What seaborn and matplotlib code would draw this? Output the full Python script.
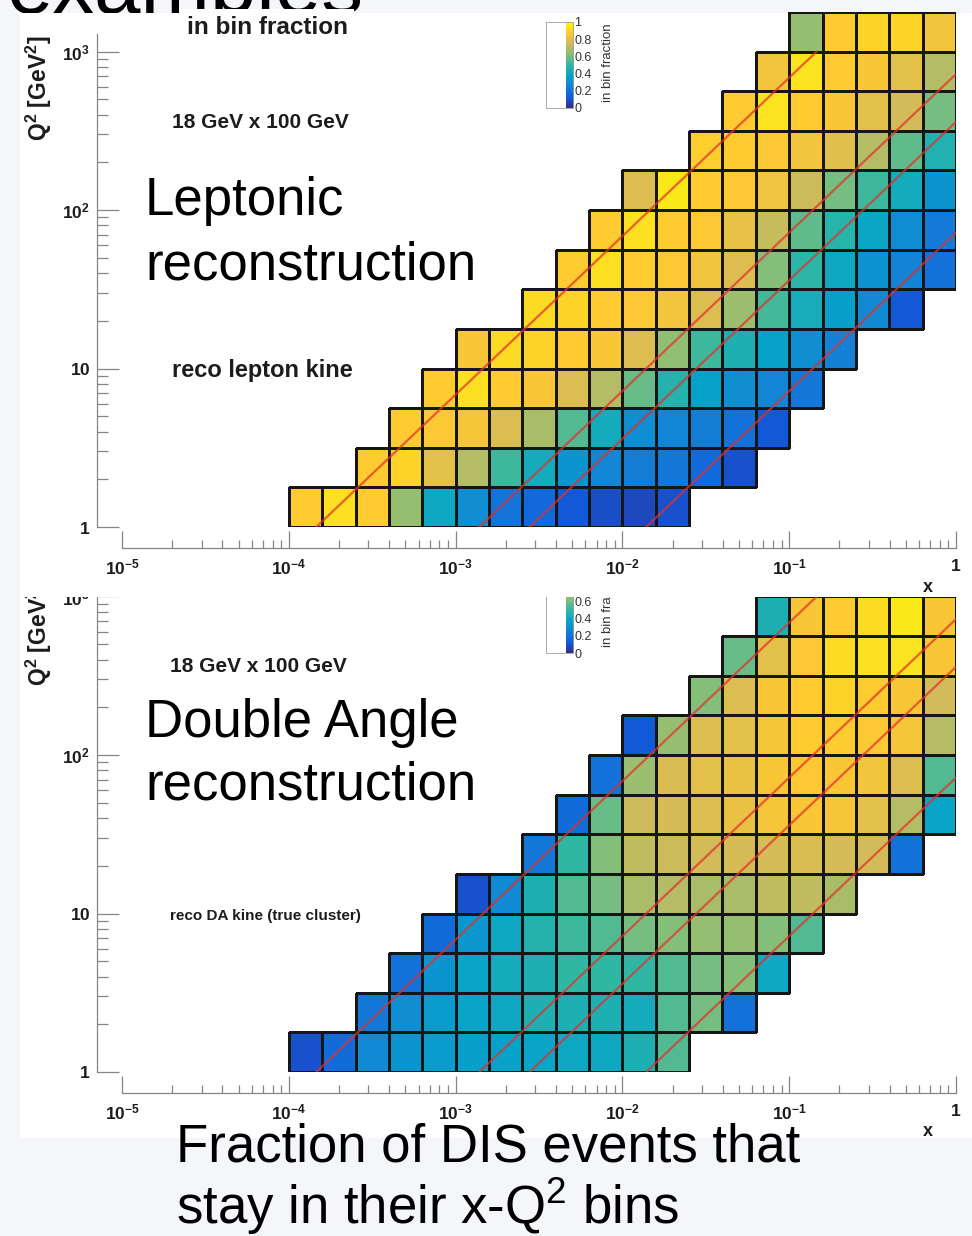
import numpy as np
import pandas as pd
import matplotlib
matplotlib.use("Agg")
import matplotlib.pyplot as plt
import seaborn as sns
from matplotlib.colors import LinearSegmentedColormap, to_rgba
from matplotlib.patches import Rectangle
from matplotlib.ticker import LogLocator, NullFormatter, FixedLocator, FixedFormatter

# ---------------------------------------------------------------- data
beam_e_GeV = 18.0
beam_p_GeV = 100.0
y_lines = [0.95, 0.10, 0.05, 0.01]          # lines of constant inelasticity

x_bin_log_min, x_bin_log_width, n_x_bins = -4.0, 0.2, 20
q2_bin_log_min, q2_bin_log_width, n_q2_bins = 0.0, 0.25, 13

# first x-bin index filled in each Q2 row (rows from Q2 = 1 upwards)
row_first_col = [0, 2, 3, 4, 5, 7, 8, 9, 10, 12, 13, 14, 15]

# leptonic reconstruction: in-bin fraction, one list per Q2 row
lep_row00 = [0.88, 0.93, 0.88, 0.65, 0.40, 0.30, 0.21, 0.17, 0.12, 0.09, 0.08, 0.10]
lep_row01 = [0.88, 0.90, 0.80, 0.70, 0.52, 0.42, 0.32, 0.27, 0.24, 0.22, 0.17, 0.10]
lep_row02 = [0.88, 0.87, 0.85, 0.78, 0.68, 0.55, 0.42, 0.30, 0.27, 0.24, 0.20, 0.12]
lep_row03 = [0.88, 0.93, 0.88, 0.86, 0.78, 0.70, 0.58, 0.47, 0.37, 0.30, 0.27, 0.22]
lep_row04 = [0.86, 0.92, 0.90, 0.88, 0.86, 0.78, 0.64, 0.52, 0.45, 0.37, 0.30, 0.25]
lep_row05 = [0.92, 0.90, 0.88, 0.87, 0.84, 0.78, 0.66, 0.53, 0.43, 0.36, 0.28, 0.12]
lep_row06 = [0.88, 0.93, 0.88, 0.87, 0.84, 0.78, 0.62, 0.49, 0.40, 0.31, 0.26, 0.20]
lep_row07 = [0.88, 0.93, 0.88, 0.87, 0.81, 0.73, 0.57, 0.48, 0.39, 0.29, 0.23]
lep_row08 = [0.78, 0.95, 0.88, 0.87, 0.83, 0.74, 0.60, 0.52, 0.42, 0.32]
lep_row09 = [0.89, 0.88, 0.87, 0.84, 0.79, 0.70, 0.57, 0.46]
lep_row10 = [0.88, 0.94, 0.88, 0.86, 0.80, 0.75, 0.60]
lep_row11 = [0.84, 0.94, 0.88, 0.86, 0.80, 0.70]
lep_row12 = [0.65, 0.88, 0.90, 0.90, 0.84]

# double-angle reconstruction
da_row00 = [0.10, 0.18, 0.28, 0.32, 0.35, 0.36, 0.37, 0.38, 0.40, 0.40, 0.45, 0.55]
da_row01 = [0.22, 0.30, 0.35, 0.38, 0.40, 0.45, 0.45, 0.45, 0.42, 0.55, 0.60, 0.20]
da_row02 = [0.20, 0.32, 0.38, 0.42, 0.45, 0.50, 0.50, 0.50, 0.55, 0.60, 0.62, 0.40]
da_row03 = [0.18, 0.33, 0.40, 0.47, 0.52, 0.55, 0.60, 0.62, 0.65, 0.65, 0.62, 0.55]
da_row04 = [0.10, 0.28, 0.45, 0.55, 0.60, 0.68, 0.70, 0.68, 0.68, 0.72, 0.72, 0.68]
da_row05 = [0.22, 0.50, 0.62, 0.72, 0.74, 0.75, 0.76, 0.76, 0.77, 0.76, 0.75, 0.20]
da_row06 = [0.18, 0.58, 0.74, 0.76, 0.78, 0.82, 0.85, 0.86, 0.85, 0.80, 0.70, 0.38]
da_row07 = [0.20, 0.66, 0.77, 0.80, 0.82, 0.86, 0.87, 0.86, 0.84, 0.78, 0.55]
da_row08 = [0.12, 0.65, 0.78, 0.80, 0.85, 0.88, 0.88, 0.87, 0.85, 0.70]
da_row09 = [0.62, 0.78, 0.86, 0.88, 0.90, 0.88, 0.86, 0.75]
da_row10 = [0.58, 0.80, 0.87, 0.92, 0.93, 0.94, 0.86]
da_row11 = [0.45, 0.86, 0.88, 0.92, 0.95, 0.86]

x_ticks = [1e-5, 1e-4, 1e-3, 1e-2, 1e-1, 1.0]
x_tick_labels = [r'$\mathbf{10^{-5}}$', r'$\mathbf{10^{-4}}$', r'$\mathbf{10^{-3}}$',
                 r'$\mathbf{10^{-2}}$', r'$\mathbf{10^{-1}}$', r'$\mathbf{1}$']
y_ticks = [1, 10, 100, 1000]
y_tick_labels = [r'$\mathbf{1}$', r'$\mathbf{10}$', r'$\mathbf{10^{2}}$', r'$\mathbf{10^{3}}$']
cbar_ticks = [0.0, 0.2, 0.4, 0.6, 0.8, 1.0]
cbar_tick_labels = ['0', '0.2', '0.4', '0.6', '0.8', '1']

# ---------------------------------------------------------------- style
sns.set_theme(style="white")
plt.rcParams['font.family'] = ['Liberation Sans', 'DejaVu Sans']
plt.rcParams['mathtext.fontset'] = 'custom'
plt.rcParams['mathtext.rm'] = 'Liberation Sans'
plt.rcParams['mathtext.bf'] = 'Liberation Sans:bold'
plt.rcParams['mathtext.it'] = 'Liberation Sans:italic'

# ROOT "kBird" palette
_stops = [0.0, 0.125, 0.25, 0.375, 0.5, 0.625, 0.75, 0.875, 1.0]
_r = [0.2082, 0.0592, 0.0780, 0.0232, 0.1802, 0.5301, 0.8186, 0.9956, 0.9764]
_g = [0.1664, 0.3599, 0.5041, 0.6419, 0.7178, 0.7492, 0.7328, 0.7862, 0.9832]
_b = [0.5293, 0.8684, 0.8385, 0.7914, 0.6425, 0.4662, 0.3499, 0.1968, 0.0539]
bird = LinearSegmentedColormap.from_list("bird", list(zip(_stops, zip(_r, _g, _b))))
bird.set_bad((1, 1, 1, 0))

W, H, DPI = 972, 1236, 100
fig = plt.figure(figsize=(W / DPI, H / DPI), dpi=DPI)
fig.patch.set_facecolor('#f4f6f9')

AX_L, AX_R, AX_B = 122, 956, 527          # px
PX_DEC = 158.5
AX_HPX = 3.25 * PX_DEC
PANEL_SHIFT = 545
TXT = '#1c1c1c'
AXC = '#858585'
CELL_EDGE = '#161616'

x_edges = x_bin_log_min + x_bin_log_width * np.arange(n_x_bins + 1)
q_edges = q2_bin_log_min + q2_bin_log_width * np.arange(n_q2_bins + 1)


def fx(px):
    return px / W


def fy(py):
    return 1 - py / H


def cells_frame(rows):
    xs, qs, ws = [], [], []
    for r, vals in enumerate(rows):
        c0 = row_first_col[r]
        for i, v in enumerate(vals):
            xs.append(10 ** (x_bin_log_min + x_bin_log_width * (c0 + i + 0.5)))
            qs.append(10 ** (q2_bin_log_min + q2_bin_log_width * (r + 0.5)))
            ws.append(v)
    return pd.DataFrame({'x': xs, 'Q2': qs, 'frac': ws})


def panel(rows, yo, z):
    ax = fig.add_axes([fx(AX_L), fy(AX_B + yo), (AX_R - AX_L) / W, AX_HPX / H], zorder=z)
    ax.set_facecolor('none')
    sns.histplot(data=cells_frame(rows), x='x', y='Q2', weights='frac',
                 bins=(x_edges, q_edges), log_scale=(True, True),
                 cmap=bird, vmin=0, vmax=1, linewidth=1.0, ax=ax)
    # cell borders only on filled bins
    mesh = ax.collections[-1]
    mask = np.ma.getmaskarray(mesh.get_array()).ravel()
    ec = np.tile(to_rgba(CELL_EDGE), (mask.size, 1))
    ec[mask, 3] = 0.0
    mesh.set_edgecolor(ec)
    mesh.set_linewidth(1.0)

    s = 4 * beam_e_GeV * beam_p_GeV
    for yv in y_lines:
        q_lo, q_hi = 1.0, min(1000.0, s * yv)
        ax.plot([q_lo / (s * yv), q_hi / (s * yv)], [q_lo, q_hi],
                color='#e3302a', alpha=0.72, lw=1.6, zorder=4)
    ax.set_xlim(1e-5, 1)
    ax.set_ylim(1, 10 ** 3.25)
    ax.set_xlabel('')
    ax.set_ylabel('')
    sns.despine(ax=ax, offset={'left': 18, 'bottom': 15})
    ax.spines['left'].set_bounds(1, 10 ** 3.11)
    for sp in ('left', 'bottom'):
        ax.spines[sp].set_color(AXC)
        ax.spines[sp].set_linewidth(0.9)
    ax.xaxis.set_major_locator(FixedLocator(x_ticks))
    ax.xaxis.set_major_formatter(FixedFormatter(x_tick_labels))
    ax.yaxis.set_major_locator(FixedLocator(y_ticks))
    ax.yaxis.set_major_formatter(FixedFormatter(y_tick_labels))
    ax.xaxis.set_minor_locator(LogLocator(base=10, subs=np.arange(2, 10)))
    ax.yaxis.set_minor_locator(LogLocator(base=10, subs=np.arange(2, 10)))
    ax.xaxis.set_minor_formatter(NullFormatter())
    ax.yaxis.set_minor_formatter(NullFormatter())
    ax.tick_params(which='both', direction='in', color=AXC, width=0.9,
                   labelcolor=TXT, labelsize=12.5, bottom=True, left=True)
    ax.tick_params(axis='x', which='major', length=12, pad=7)
    ax.tick_params(axis='x', which='minor', length=6)
    ax.tick_params(axis='y', which='major', length=16, pad=5)
    ax.tick_params(axis='y', which='minor', length=8)

    # axis titles
    ax.text(fx(928), fy(587 + yo), 'x', transform=fig.transFigure, ha='center',
            va='center', fontsize=13, fontweight='bold', color=TXT)
    ax.text(fx(39), fy(88 + yo), r'Q$^{\mathbf{2}}$ [GeV$^{\mathbf{2}}$]',
            transform=fig.transFigure, ha='center', va='center', rotation=90,
            fontsize=16.5, fontweight='bold', color=TXT)

    # palette
    cax = fig.add_axes([fx(546), fy(108 + yo), 27 / W, 86 / H], zorder=z)
    cax.set_facecolor('white')
    grad = np.linspace(0, 1, 256).reshape(-1, 1)
    cax.imshow(grad, cmap=bird, origin='lower', aspect='auto', extent=(0.74, 1.0, 0, 1))
    cax.set_xlim(0, 1)
    cax.set_ylim(0, 1)
    for sp in cax.spines.values():
        sp.set_color('#a0a0a0')
        sp.set_linewidth(0.6)
    cax.set_xticks([])
    cax.yaxis.tick_right()
    cax.set_yticks(cbar_ticks)
    cax.set_yticklabels(cbar_tick_labels)
    cax.tick_params(axis='y', length=0, pad=1, labelsize=9, labelcolor='#333333')
    ax.text(fx(608), fy(63 + yo), 'in bin fraction', transform=fig.transFigure,
            rotation=90, ha='center', va='center', fontsize=9.5, color='#333333')
    return ax


# slide title behind the plot images
fig.text(fx(7), fy(13), 'examples', fontsize=60, ha='left', va='baseline',
         color='black', zorder=-3)
# white plot-image area
fig.add_artist(Rectangle((fx(20), fy(1138)), (W - 20) / W, (1138 - 13) / H,
                         transform=fig.transFigure, facecolor='white',
                         edgecolor='none', zorder=-2))

lep_rows = [lep_row00, lep_row01, lep_row02, lep_row03, lep_row04, lep_row05, lep_row06,
            lep_row07, lep_row08, lep_row09, lep_row10, lep_row11, lep_row12]
da_rows = [da_row00, da_row01, da_row02, da_row03, da_row04, da_row05, da_row06,
           da_row07, da_row08, da_row09, da_row10, da_row11]

# lower image (Double Angle), partly covered by the upper image
axb = panel(da_rows, PANEL_SHIFT, -1)
axb.text(fx(170), fy(667), '18 GeV x 100 GeV', transform=fig.transFigure,
         ha='left', va='center', fontsize=15, fontweight='bold', color=TXT)
axb.text(fx(170), fy(916), 'reco DA kine (true cluster)', transform=fig.transFigure,
         ha='left', va='center', fontsize=11, fontweight='bold', color=TXT)

# upper image background covering the top of the lower one
fig.add_artist(Rectangle((fx(20), fy(597)), (W - 20) / W, (597 - 13) / H,
                         transform=fig.transFigure, facecolor='white',
                         edgecolor='none', zorder=0))

axt = panel(lep_rows, 0, 1)
axt.text(fx(172), fy(123), '18 GeV x 100 GeV', transform=fig.transFigure,
         ha='left', va='center', fontsize=15, fontweight='bold', color=TXT)
axt.text(fx(172), fy(371), 'reco lepton kine', transform=fig.transFigure,
         ha='left', va='center', fontsize=17, fontweight='bold', color=TXT)
fig.text(fx(267), fy(27), 'in bin fraction', ha='center', va='center', fontsize=17.5,
         fontweight='bold', color=TXT, zorder=4,
         bbox=dict(boxstyle='square,pad=0.25', facecolor='white', edgecolor='none'))

# slide annotations
big = dict(fontsize=38, color='black', ha='left', va='baseline', zorder=5)
fig.text(fx(145), fy(215), 'Leptonic', **big)
fig.text(fx(145), fy(280), 'reconstruction', **big)
fig.text(fx(145), fy(737), 'Double Angle', **big)
fig.text(fx(145), fy(800), 'reconstruction', **big)
fig.text(fx(176), fy(1162), 'Fraction of DIS events that', **big)
fig.text(fx(176), fy(1224), r'stay in their x-Q$^{\mathregular{2}}$ bins', **big)

fig.savefig('out.png', dpi=DPI, facecolor=fig.get_facecolor())
